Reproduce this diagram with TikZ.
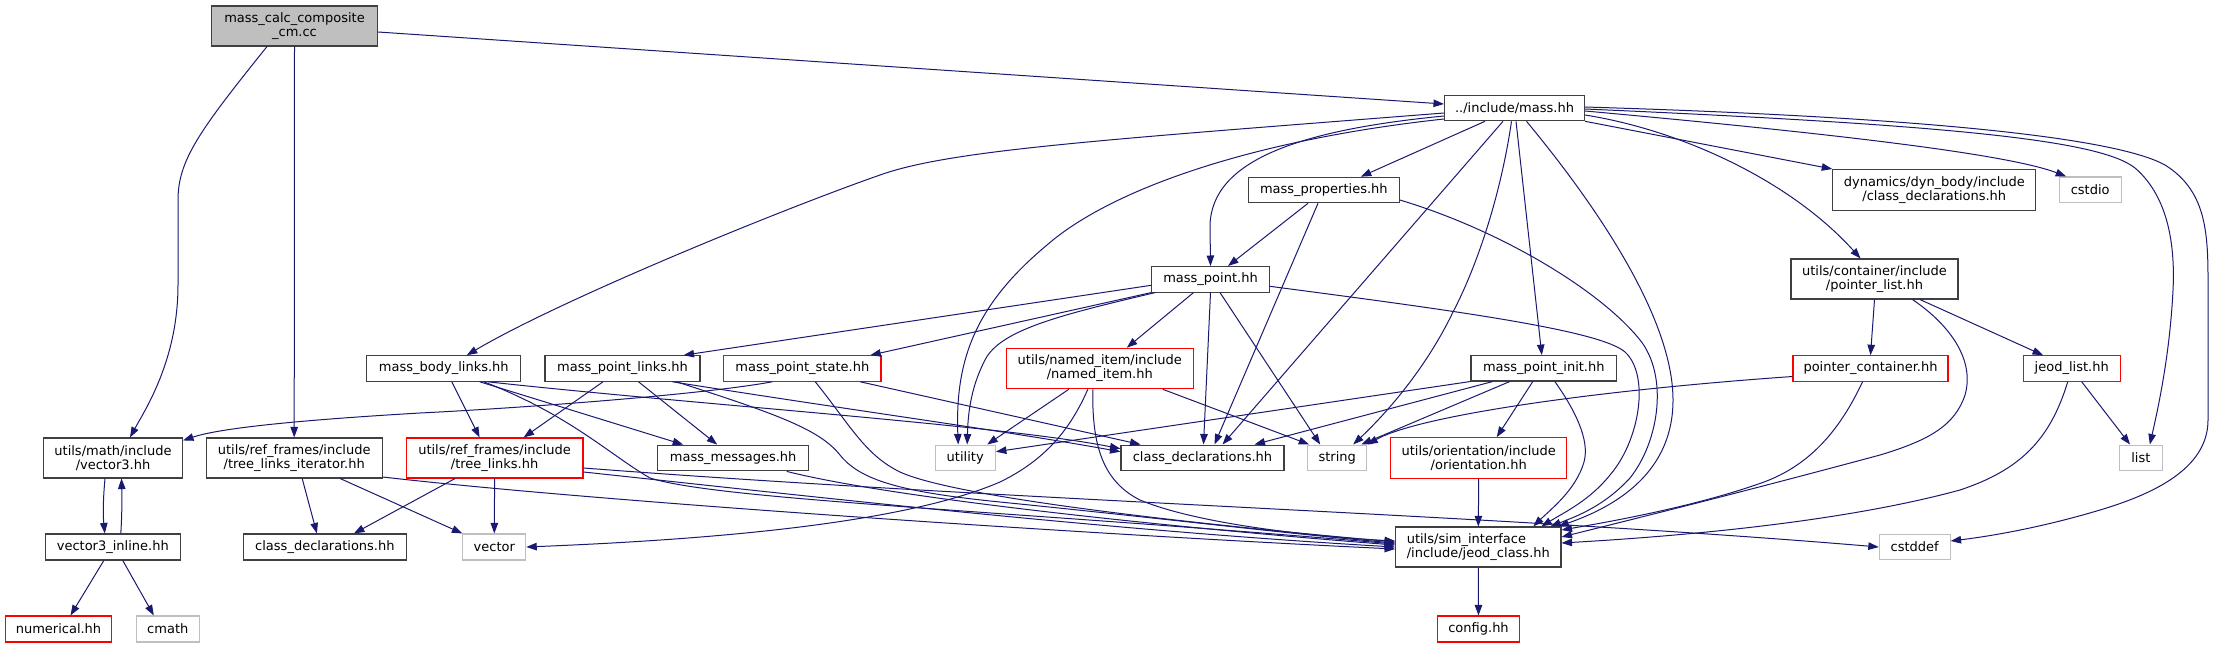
\documentclass[tikz,border=0pt]{standalone}
\usepackage{fontspec}
\setmainfont{DejaVu Sans}
\usetikzlibrary{arrows.meta}
\definecolor{edgeblue}{RGB}{25,25,112}
\definecolor{bordergray}{RGB}{64,64,64}
\definecolor{lightgr}{RGB}{191,191,191}
\definecolor{nodered}{RGB}{255,0,0}
\newcommand\dfont{\fontsize{13pt}{14pt}\selectfont}
\begin{document}
\begin{tikzpicture}[x=1pt,y=-1pt,
  base/.style={font=\dfont, inner sep=0pt, text=black, line width=1.1pt, fill=white},
  nb/.style={base, draw=bordergray},
  nr/.style={base, draw=nodered},
  ng/.style={base, draw=lightgr},
  nroot/.style={base, draw=bordergray, fill=lightgr},
  sz/.style 2 args={minimum width=#1, minimum height=#2},
  e/.style={draw=edgeblue, line width=1pt, -{Triangle[length=10.5pt,width=7.5pt]}},
]
\useasboundingbox (0,0) rectangle (2215,648);

% nodes
\node[nroot, sz={166pt}{40pt}, align=center] (root) at (294.5,26) {mass\_calc\_composite\\\_cm.cc};
\node[nb, sz={140pt}{25.5pt}] (mass) at (1514.5,108) {../include/mass.hh};
\node[nb, sz={151pt}{25.5pt}] (mprops) at (1323.8,190) {mass\_properties.hh};
\node[nb, sz={203pt}{40.5pt}, align=center] (dynbody) at (1934.3,189.8) {dynamics/dyn\_body/include\\/class\_declarations.hh};
\node[ng, sz={62pt}{25.5pt}] (cstdio) at (2090.2,189.7) {cstdio};
\node[nb, sz={117.6pt}{25.5pt}] (mpoint) at (1210.5,279.3) {mass\_point.hh};
\node[nb, sz={167pt}{40pt}, align=center] (plist) at (1874.5,279) {utils/container/include\\/pointer\_list.hh};
\node[nb, sz={154pt}{25.5pt}] (mbl) at (443.8,368.5) {mass\_body\_links.hh};
\node[nb, sz={155pt}{25.5pt}] (mpl) at (622.5,368.5) {mass\_point\_links.hh};
\node[nr, sz={157.3pt}{25.5pt}] (mps) at (802.3,368.5) {mass\_point\_state.hh};
\node[nr, sz={187pt}{40.5pt}, align=center] (named) at (1099.8,368.5) {utils/named\_item/include\\/named\_item.hh};
\node[nb, sz={145.7pt}{25.3pt}] (mpi) at (1543.8,368.3) {mass\_point\_init.hh};
\node[nr, sz={155pt}{25.5pt}] (pcont) at (1870.5,368.5) {pointer\_container.hh};
\node[nr, sz={97.3pt}{25.5pt}] (jlist) at (2071.7,368.5) {jeod\_list.hh};
\node[nb, sz={139pt}{40pt}, align=center] (vec3) at (113,458) {utils/math/include\\/vector3.hh};
\node[nb, sz={176pt}{40pt}, align=center] (tli) at (294.2,458) {utils/ref\_frames/include\\/tree\_links\_iterator.hh};
\node[nr, sz={176.7pt}{40pt}, align=center] (tl) at (494.6,458) {utils/ref\_frames/include\\/tree\_links.hh};
\node[nb, sz={151pt}{25.7pt}] (mmsg) at (733.2,458) {mass\_messages.hh};
\node[ng, sz={60.3pt}{25.3pt}] (utility) at (965.2,457.7) {utility};
\node[nb, sz={163pt}{25.3pt}] (cdm) at (1202.5,457.7) {class\_declarations.hh};
\node[ng, sz={59pt}{25.3pt}] (string) at (1337.2,457.7) {string};
\node[nr, sz={176pt}{40.6pt}, align=center] (orient) at (1478.7,458) {utils/orientation/include\\/orientation.hh};
\node[ng, sz={43pt}{25.3pt}] (list) at (2140.8,457.7) {list};
\node[nb, sz={165.3pt}{40pt}, align=left] (jclass) at (1478.3,547) {utils/sim\_interface\\/include/jeod\_class.hh};
\node[nb, sz={135pt}{26pt}] (v3i) at (112.8,547) {vector3\_inline.hh};
\node[nb, sz={162.8pt}{26pt}] (cdrf) at (324.9,547) {class\_declarations.hh};
\node[ng, sz={62.8pt}{26pt}] (vector) at (494.3,547) {vector};
\node[ng, sz={70.7pt}{25.5pt}] (cstddef) at (1914.7,547) {cstddef};
\node[nr, sz={106.6pt}{26pt}] (numerical) at (58.5,629) {numerical.hh};
\node[ng, sz={62.7pt}{26pt}] (cmath) at (167.8,629) {cmath};
\node[nr, sz={82pt}{26pt}] (config) at (1478.5,629) {config.hh};

% edges from root
\draw[e] ([yshift=-6pt]root.east) -- ([yshift=4pt]mass.west);
\draw[e] ([xshift=-27.5pt]root.south) .. controls (200,130) and (178,160) .. (178,200) -- (178,285) .. controls (178,360) and (145,410) .. ([xshift=17pt]vec3.north);
\draw[e] (root.south) -- (tli.north);

% edges from mass.hh
\draw[e] ([yshift=-5pt]mass.west) .. controls (1100,140) and (950,150) .. (880,175) .. controls (780,210) and (560,300) .. ([xshift=23pt]mbl.north);
\draw[e] ([xshift=-29.5pt]mass.south) -- ([xshift=37pt]mprops.north);
\draw[e] ([yshift=-8pt]mass.west) .. controls (1300,130) and (1212,160) .. (1210,225) -- (mpoint.north);
\draw[e] ([yshift=-11pt]mass.west) .. controls (1250,140) and (1110,190) .. (1047,245) .. controls (975,305) and (955,360) .. ([xshift=-7pt]utility.north);
\draw[e] ([xshift=-11.5pt]mass.south) -- ([xshift=20pt]cdm.north);
\draw[e] ([xshift=-3pt]mass.south) .. controls (1500,200) and (1475,270) .. (1453,312) .. controls (1430,360) and (1395,405) .. ([xshift=16pt]string.north);
\draw[e] ([xshift=1.5pt]mass.south) -- ([xshift=-2pt]mpi.north);
\draw[e] ([xshift=12pt]mass.south) .. controls (1600,210) and (1673,320) .. (1673,400) .. controls (1673,470) and (1620,505) .. ([xshift=80pt]jclass.north);
\draw[e] (mass.south east) -- (dynbody.north west);
\draw[e] ([yshift=-7pt]mass.east) .. controls (1680,130) and (1790,180) .. ([xshift=-14pt]plist.north);
\draw[e] ([yshift=-3pt]mass.east) .. controls (1850,135) and (2010,155) .. ([xshift=-24pt]cstdio.north);
\draw[e] ([yshift=-1pt]mass.east) .. controls (1950,125) and (2100,140) .. (2135,168) .. controls (2170,198) and (2175,250) .. (2173,290) .. controls (2170,350) and (2160,400) .. ([xshift=9pt]list.north);
\draw[e] ([yshift=1pt]mass.east) .. controls (1950,118) and (2120,140) .. (2165,165) .. controls (2205,190) and (2208,230) .. (2208,280) -- (2208,420) .. controls (2208,470) and (2150,495) .. (2100,510) .. controls (2050,525) and (2000,535) .. ([yshift=6pt]cstddef.east);

% mass_properties
\draw[e] ([xshift=-15.8pt]mprops.south) -- ([xshift=17.5pt]mpoint.north);
\draw[e] ([xshift=-5.8pt]mprops.south) -- ([xshift=12pt]cdm.north);
\draw[e] ([yshift=-10pt]mprops.east) .. controls (1500,230) and (1600,290) .. (1640,340) .. controls (1668,375) and (1660,440) .. (1630,478) .. controls (1605,505) and (1580,515) .. ([xshift=72pt]jclass.north);

% mass_point
\draw[e] ([yshift=-6pt]mpoint.west) -- ([xshift=61pt]mpl.north);
\draw[e] (mpoint.south west) -- ([xshift=68pt]mps.north);
\draw[e] ([xshift=4pt]mpoint.south west) .. controls (1060,315) and (1000,330) .. (985,360) .. controls (972,385) and (968,410) .. ([xshift=2pt]utility.north);
\draw[e] ([xshift=-17pt]mpoint.south) -- ([xshift=27pt]named.north);
\draw[e] (mpoint.south) -- ([xshift=1pt]cdm.north);
\draw[e] ([xshift=9.5pt]mpoint.south) -- ([xshift=-17pt]string.north);
\draw[e] ([yshift=-7pt]mpoint.east) .. controls (1450,310) and (1600,330) .. (1625,352) .. controls (1650,375) and (1640,440) .. (1610,475) .. controls (1590,500) and (1565,512) .. ([xshift=63pt]jclass.north);

% mass_body_links
\draw[e] ([xshift=8pt]mbl.south) -- ([xshift=-15pt]tl.north);
\draw[e] ([xshift=36pt]mbl.south) -- ([xshift=-50pt]mmsg.north);
\draw[e] ([xshift=44pt]mbl.south) .. controls (700,405) and (1000,425) .. ([yshift=9pt]cdm.west);
\draw[e] ([xshift=40pt]mbl.south) .. controls (570,415) and (610,455) .. (650,478) .. controls (720,500) and (1000,510) .. ([yshift=3pt]jclass.west);

% mass_point_links
\draw[e] ([xshift=-19.5pt]mpl.south) -- ([xshift=29pt]tl.north);
\draw[e] ([xshift=16pt]mpl.south) -- ([xshift=-16pt]mmsg.north);
\draw[e] ([xshift=50pt]mpl.south) .. controls (850,410) and (1000,430) .. ([yshift=6pt]cdm.west);
\draw[e] ([xshift=54pt]mpl.south) .. controls (780,415) and (820,430) .. (840,455) .. controls (860,480) and (900,492) .. (1000,502) .. controls (1150,517) and (1300,535) .. ([yshift=4pt]jclass.west);

% mass_point_state
\draw[e] ([xshift=-30pt]mps.south) .. controls (700,395) and (520,408) .. (420,413) .. controls (300,420) and (220,428) .. ([yshift=-3pt]vec3.north east);
\draw[e] ([xshift=58pt]mps.south) -- ([xshift=-62pt]cdm.north);
\draw[e] ([xshift=13pt]mps.south) .. controls (850,425) and (865,455) .. (900,472) .. controls (950,495) and (1150,520) .. ([yshift=5pt]jclass.west);

% named_item
\draw[e] ([xshift=-31pt]named.south) -- ([xshift=22pt]utility.north);
\draw[e] ([xshift=-12pt]named.south) .. controls (1070,430) and (1045,460) .. (1000,482) .. controls (900,525) and (700,540) .. (vector.east);
\draw[e] ([xshift=-7pt]named.south) .. controls (1092,440) and (1100,480) .. (1140,500) .. controls (1200,525) and (1320,537) .. ([yshift=6pt]jclass.west);
\draw[e] ([xshift=63pt]named.south) -- ([xshift=-28pt]string.north);

% mass_point_init
\draw[e] (mpi.south west) -- ([yshift=6pt]utility.east);
\draw[e] ([xshift=-51pt]mpi.south) -- ([xshift=52pt]cdm.north);
\draw[e] ([xshift=-34pt]mpi.south) -- ([xshift=24pt]string.north);
\draw[e] ([xshift=-11pt]mpi.south) -- ([xshift=18pt]orient.north);
\draw[e] ([xshift=11pt]mpi.south) .. controls (1575,410) and (1590,440) .. (1584,462) .. controls (1576,490) and (1550,510) .. ([xshift=55pt]jclass.north);

% pointer_list
\draw[e] (plist.south) -- (pcont.north);
\draw[e] ([xshift=45.5pt]plist.south) -- ([xshift=-28.7pt]jlist.north);
\draw[e] ([xshift=38pt]plist.south) .. controls (1950,325) and (1975,360) .. (1965,395) .. controls (1955,425) and (1930,440) .. (1880,455) .. controls (1750,490) and (1650,515) .. ([yshift=10pt]jclass.east);

% pointer_container
\draw[e] ([yshift=-8pt]pcont.west) .. controls (1600,390) and (1420,415) .. (string.north east);
\draw[e] ([xshift=-8pt]pcont.south) .. controls (1840,430) and (1810,465) .. (1764,482) .. controls (1700,505) and (1620,520) .. ([yshift=17pt]jclass.east);

% jeod_list
\draw[e] ([xshift=10pt]jlist.south) -- ([xshift=-10.8pt]list.north);
\draw[e] ([xshift=-4pt]jlist.south) .. controls (2050,440) and (2020,470) .. (1960,490) .. controls (1850,520) and (1700,535) .. ([yshift=4pt]jclass.east);

% orientation, jeod_class
\draw[e] (orient.south) -- (jclass.north);
\draw[e] (jclass.south) -- (config.north);

% tree_links_iterator
\draw[e] ([xshift=8pt]tli.south) -- ([xshift=-8pt]cdrf.north);
\draw[e] ([xshift=46pt]tli.south) -- (vector.north west);
\draw[e] ([yshift=-19pt]tli.east) .. controls (600,502) and (1100,535) .. ([yshift=-2pt]jclass.west);

% tree_links
\draw[e] ([xshift=-39.6pt]tl.south) -- ([xshift=29pt]cdrf.north);
\draw[e] (tl.south) -- (vector.north);
\draw[e] ([yshift=-14pt]tl.east) .. controls (800,495) and (1100,530) .. (jclass.west);
\draw[e] ([yshift=-10pt]tl.east) .. controls (1000,500) and (1500,515) .. (cstddef.west);

% mass_messages
\draw[e] ([xshift=53.5pt]mmsg.south) .. controls (900,500) and (1200,530) .. ([yshift=2pt]jclass.west);

% vector3 and inline
\draw[e] ([xshift=-8pt]vec3.south) .. controls (103,500) and (103,515) .. ([xshift=-8pt]v3i.north);
\draw[e] ([xshift=8pt]v3i.north) .. controls (122,515) and (122,500) .. ([xshift=8.5pt]vec3.south);
\draw[e] ([xshift=-9pt]v3i.south) -- ([xshift=12pt]numerical.north);
\draw[e] ([xshift=10pt]v3i.south) -- ([xshift=-14pt]cmath.north);
\end{tikzpicture}
\end{document}
